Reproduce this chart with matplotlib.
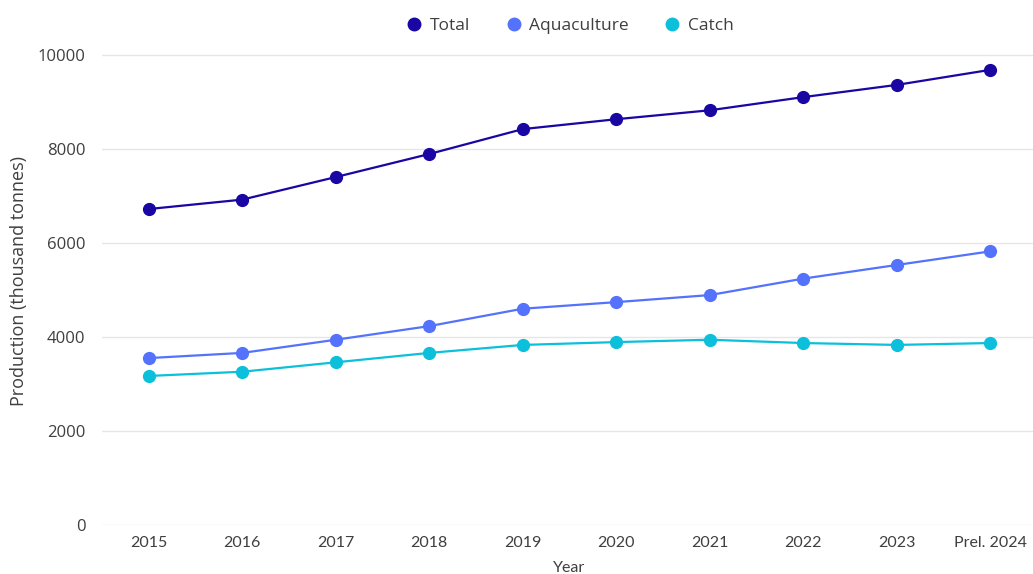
import numpy as np
import matplotlib.pyplot as plt

years = ["2015", "2016", "2017", "2018", "2019", "2020", "2021", "2022", "2023", "Prel. 2024"]
total = [6720, 6920, 7400, 7890, 8420, 8630, 8820, 9100, 9360, 9680]
aquaculture = [3550, 3660, 3940, 4230, 4600, 4740, 4890, 5240, 5530, 5820]
catch = [3170, 3260, 3460, 3660, 3830, 3890, 3940, 3870, 3830, 3870]

colors = {"Total": "#1a06a3", "Aquaculture": "#5472fb", "Catch": "#0cc0dc"}
text_color = "#3f3f3f"

plt.rcParams['font.family'] = ['Lato', 'DejaVu Sans']
wide = ['Open Sans', 'DejaVu Sans']

fig = plt.figure(figsize=(10.33, 5.74), dpi=100)
ax = fig.add_axes([102 / 1033, 49 / 574, 935 / 1033, 489 / 574])

x = np.arange(len(years))
for name, vals in [("Total", total), ("Aquaculture", aquaculture), ("Catch", catch)]:
    ax.plot(x, vals, color=colors[name], lw=1.6, marker="o", markersize=8.5,
            label=name, zorder=3)

ax.set_xlim(-0.5, 9.5)
ax.set_ylim(0, 10400)
ax.set_yticks([0, 2000, 4000, 6000, 8000, 10000])
ax.set_xticks(x)
ax.set_xticklabels(years)
ax.grid(axis="y", color="#e6e6e6", lw=1)
ax.set_axisbelow(True)
for s in ax.spines.values():
    s.set_visible(False)
ax.tick_params(length=0, colors=text_color)
ax.tick_params(axis="x", pad=8, labelsize=11.5)
ax.tick_params(axis="y", pad=12, labelsize=12)
for t in ax.get_yticklabels():
    t.set_family(wide)

ax.set_xlabel("Year", color=text_color, fontsize=11.5, labelpad=8)
ax.set_ylabel("Production (thousand tonnes)", color=text_color, fontsize=13,
              labelpad=7, family=wide)

leg = ax.legend(loc="center", bbox_to_anchor=(0.5, 1.02), ncol=3, frameon=False,
                prop={"family": wide, "size": 12.5},
                handlelength=1.0, handletextpad=0.4, columnspacing=2.0)
for h in leg.get_lines():
    h.set_linestyle("none")
    h.set_markersize(9)
for t in leg.get_texts():
    t.set_color(text_color)

fig.savefig("out.png", dpi=100)
